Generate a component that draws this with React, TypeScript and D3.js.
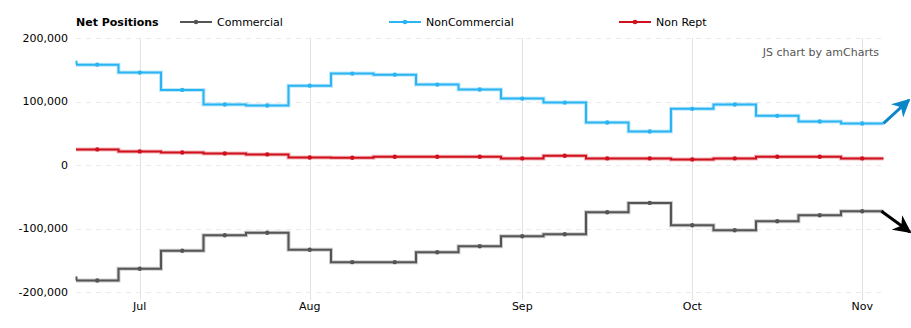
import React from "react";
import * as d3 from "d3";

const weeks = [
  "2016-06-28", "2016-07-05", "2016-07-12", "2016-07-19", "2016-07-26",
  "2016-08-02", "2016-08-09", "2016-08-16", "2016-08-23", "2016-08-30",
  "2016-09-06", "2016-09-13", "2016-09-20", "2016-09-27", "2016-10-04",
  "2016-10-11", "2016-10-18", "2016-10-25", "2016-11-01",
];
const commercial = [-181800, -163400, -135100, -110600, -106800, -133500, -153000, -153000, -137300, -127900, -112200, -109000, -74500, -59700, -94900, -102700, -88600, -79200, -72900];
const nonCommercial = [158000, 145500, 118300, 95200, 93600, 125000, 143900, 142300, 126600, 118800, 104600, 98300, 66900, 52800, 88400, 95200, 77400, 68500, 65400];
const nonRept = [24600, 21400, 19800, 18200, 16700, 11900, 11500, 13000, 13000, 13000, 10400, 14600, 10400, 10400, 8800, 10400, 13000, 13000, 10400];
const yTicks = [200000, 100000, 0, -100000, -200000];
const seriesNames = ["Commercial", "NonCommercial", "Non Rept"];
const seriesColors = ["#555555", "#2ab4f2", "#d0101c"];
const title = "Net Positions";
const credit = "JS chart by amCharts";

const W = 911, H = 328;
const FONT = "'DejaVu Sans', Verdana, sans-serif";

export default function App() {
  const parse = d3.timeParse("%Y-%m-%d");
  const dates = weeks.map((w) => parse(w) as Date);
  const left = 76, right = 883.5, top = 38, bottom = 292;
  const x = d3.scalePoint<number>().domain(dates.map((_, i) => i)).range([left, right]).padding(0.5);
  const y = d3.scaleLinear().domain([-200000, 200000]).range([bottom, top]);
  const fmtMonth = d3.timeFormat("%b");
  const fmtNum = (v: number) => d3.format(",")(v).replace("\u2212", "-");

  const monthStarts: number[] = [];
  dates.forEach((d, i) => {
    if (i > 0 && d.getMonth() !== dates[i - 1].getMonth()) monthStarts.push(i);
  });

  const allSeries = [commercial, nonCommercial, nonRept];
  const line = d3.line<[number, number]>().x((d) => d[0]).y((d) => d[1]).curve(d3.curveStep);
  const pathFor = (vals: number[]) => {
    const pts: [number, number][] = [[left, y(vals[0])]];
    vals.forEach((v, i) => pts.push([x(i)!, y(v)]));
    pts.push([right, y(vals[vals.length - 1])]);
    return line(pts) || "";
  };

  const legendX = [180, 389, 619];
  const drawOrder = [1, 2, 0];

  const lastI = dates.length - 1;
  const blueEnd: [number, number] = [right, y(nonCommercial[lastI])];
  const grayEnd: [number, number] = [right - 2, y(commercial[lastI])];

  return (
    <div style={{ position: "absolute", left: 0, top: 0 }}>
      <svg width={W} height={H} style={{ display: "block", fontFamily: FONT }}>
        <defs>
          <marker id="ahBlue" viewBox="0 0 10 10" refX="9" refY="5" markerWidth="6" markerHeight="6" orient="auto" markerUnits="strokeWidth">
            <path d="M0,0 L10,5 L0,10 L3,5 z" fill="#0b87c7" />
          </marker>
          <marker id="ahBlack" viewBox="0 0 10 10" refX="9" refY="5" markerWidth="6" markerHeight="6" orient="auto" markerUnits="strokeWidth">
            <path d="M0,0 L10,5 L0,10 L3,5 z" fill="#000" />
          </marker>
        </defs>
        <rect width={W} height={H} fill="#fff" />
        {yTicks.map((t) => (
          <line key={t} x1={left} x2={right - 1.5} y1={Math.round(y(t)) + 0.5} y2={Math.round(y(t)) + 0.5}
            stroke="#ebebeb" strokeDasharray="5,5" />
        ))}
        {monthStarts.map((i) => (
          <line key={i} x1={Math.round(x(i)!) + 0.5} x2={Math.round(x(i)!) + 0.5} y1={top} y2={bottom + 8}
            stroke="#e2e2e2" />
        ))}
        {yTicks.map((t) => (
          <text key={t} x={68} y={y(t)} dy="0.35em" textAnchor="end" fontSize={11} fill="#000">{fmtNum(t)}</text>
        ))}
        {monthStarts.map((i) => (
          <text key={i} x={x(i)!} y={306} dy="0.35em" textAnchor="middle" fontSize={11} fill="#000">{fmtMonth(dates[i])}</text>
        ))}
        {drawOrder.map((si) => (
          <g key={si}>
            <path d={pathFor(allSeries[si])} fill="none" stroke={seriesColors[si]} strokeOpacity={0.3} strokeWidth={4} />
            <path d={pathFor(allSeries[si])} fill="none" stroke={seriesColors[si]} strokeWidth={2} />
            {si !== 2 && (
              <line x1={left + 0.5} x2={left + 0.5} y1={y(allSeries[si][0]) - 4} y2={y(allSeries[si][0])}
                stroke={seriesColors[si]} strokeWidth={2} />
            )}
            {allSeries[si].map((v, i) => (
              <circle key={i} cx={x(i)!} cy={y(v)} r={2.2} fill={seriesColors[si]} />
            ))}
          </g>
        ))}
        <line x1={blueEnd[0]} y1={blueEnd[1]} x2={909} y2={100} stroke="#0b87c7" strokeWidth={3} markerEnd="url(#ahBlue)" />
        <line x1={grayEnd[0]} y1={grayEnd[1]} x2={910} y2={232} stroke="#000" strokeWidth={3} markerEnd="url(#ahBlack)" />
        <text x={879} y={52} dy="0.35em" textAnchor="end" fontSize={11} fill="#555">{credit}</text>
        <text x={76} y={22} dy="0.35em" fontSize={11} fontWeight="bold" fill="#000">{title}</text>
        {seriesNames.map((n, i) => (
          <g key={n}>
            <line x1={legendX[i]} x2={legendX[i] + 32} y1={22} y2={22} stroke={seriesColors[i]} strokeWidth={2} />
            <circle cx={legendX[i] + 16} cy={22} r={2.3} fill={seriesColors[i]} />
            <text x={legendX[i] + 37} y={22} dy="0.35em" fontSize={11} fill="#000">{n}</text>
          </g>
        ))}
      </svg>
    </div>
  );
}
